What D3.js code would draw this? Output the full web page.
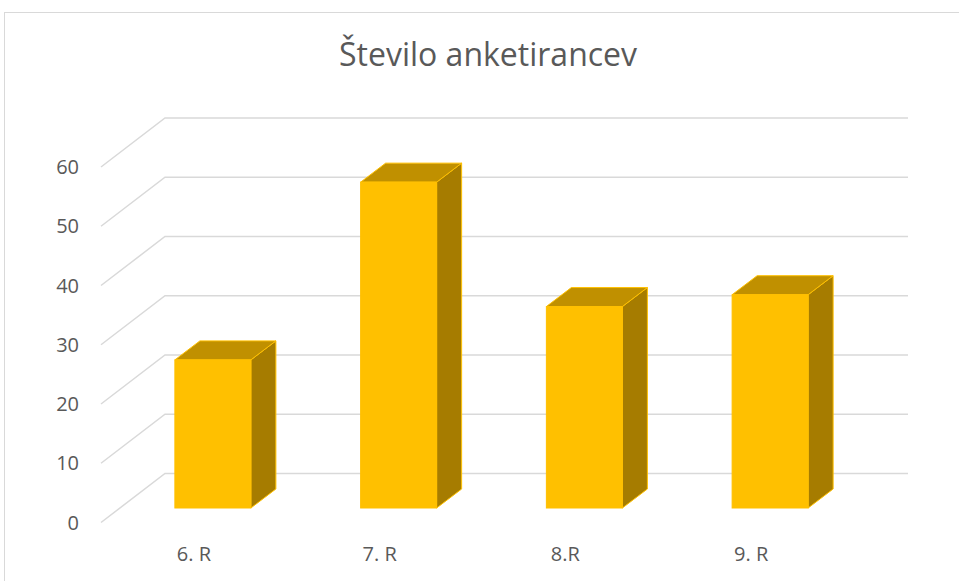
<!DOCTYPE html>
<html>
<head>
<meta charset="utf-8">
<script src="https://cdn.jsdelivr.net/npm/d3@7"></script>
<style>
  body { margin: 0; background: #fff; }
  svg { display: block; }
</style>
</head>
<body>
<svg width="959" height="581"></svg>
<script>
// Data
var categories = ["6. R", "7. R", "8.R", "9. R"];
var values = [25, 55, 34, 36];
var ticks = [0, 10, 20, 30, 40, 50, 60];
var title = "Število anketirancev";

var svg = d3.select("svg");
var font = "'Open Sans', 'DejaVu Sans', sans-serif";
var textCol = "#595959";
var gridCol = "#d9d9d9";

// floor / wall geometry (front plane and depth offset)
var depth = {dx: 64, dy: -49};
var barOff = {dx: 19, dy: -14.5};   // front face of bars sits a bit into the depth
var barDepth = {dx: 25, dy: -19};
var barW = 76;

var x = d3.scaleBand().domain(categories).range([101, 844]);
var y = d3.scaleLinear().domain([0, 60]).range([522.5, 167]);

// chart frame
svg.append("rect")
   .attr("x", 4.5).attr("y", 12.5)
   .attr("width", 970).attr("height", 600)
   .attr("fill", "none")
   .attr("stroke", "#d9d9d9")
   .attr("stroke-width", 1);

// title
svg.append("text")
   .attr("x", 488).attr("y", 66)
   .attr("text-anchor", "middle")
   .attr("font-family", font)
   .attr("font-size", "32px")
   .attr("fill", textCol)
   .text(title);

// gridlines: left wall diagonal + back wall horizontal
var grid = svg.append("g").attr("id", "grid");
grid.selectAll("path").data(ticks).enter().append("path")
   .attr("d", function(d) {
     var x0 = x.range()[0], y0 = y(d);
     return "M" + x0 + "," + y0 +
            "L" + (x0 + depth.dx) + "," + (y0 + depth.dy) +
            "L" + (x.range()[1] + depth.dx) + "," + (y0 + depth.dy);
   })
   .attr("fill", "none")
   .attr("stroke", gridCol)
   .attr("stroke-width", 1.5);

// y tick labels
svg.append("g").attr("id", "y_text")
   .selectAll("text").data(ticks).enter().append("text")
   .attr("x", 79)
   .attr("y", d => y(d) + 7)
   .attr("text-anchor", "end")
   .attr("font-family", font)
   .attr("font-size", "20px")
   .attr("fill", textCol)
   .text(d => d);

// x labels
svg.append("g").attr("id", "x_text")
   .selectAll("text").data(categories).enter().append("text")
   .attr("x", d => x(d) + x.bandwidth() / 2)
   .attr("y", 561)
   .attr("text-anchor", "middle")
   .attr("font-family", font)
   .attr("font-size", "20px")
   .attr("fill", textCol)
   .text(d => d);

// bars
var table = categories.map((c, i) => ({cat: c, val: values[i]}));
var bars = svg.append("g").attr("id", "bars")
   .selectAll("g").data(table).enter().append("g");

function pts(arr) { return arr.map(p => p.join(",")).join(" "); }

bars.each(function(d) {
  var g = d3.select(this);
  var l = x(d.cat) + (x.bandwidth() - barW) / 2 + barOff.dx;
  var r = l + barW;
  var b = y(0) + barOff.dy;
  var t = y(d.val) + barOff.dy;
  var ddx = barDepth.dx, ddy = barDepth.dy;

  // side
  g.append("polygon")
   .attr("points", pts([[r, t], [r + ddx, t + ddy], [r + ddx, b + ddy], [r, b]]))
   .attr("fill", "#a67c00")
   .attr("stroke", "#ffc000").attr("stroke-width", 1)
   .attr("stroke-linejoin", "round");
  // top
  g.append("polygon")
   .attr("points", pts([[l, t], [l + ddx, t + ddy], [r + ddx, t + ddy], [r, t]]))
   .attr("fill", "#c09000")
   .attr("stroke", "#ffc000").attr("stroke-width", 1)
   .attr("stroke-linejoin", "round");
  // front
  g.append("rect")
   .attr("x", l).attr("y", t)
   .attr("width", barW).attr("height", b - t)
   .attr("fill", "#ffc000")
   .attr("stroke", "#ffc000").attr("stroke-width", 1);
});
</script>
</body>
</html>
